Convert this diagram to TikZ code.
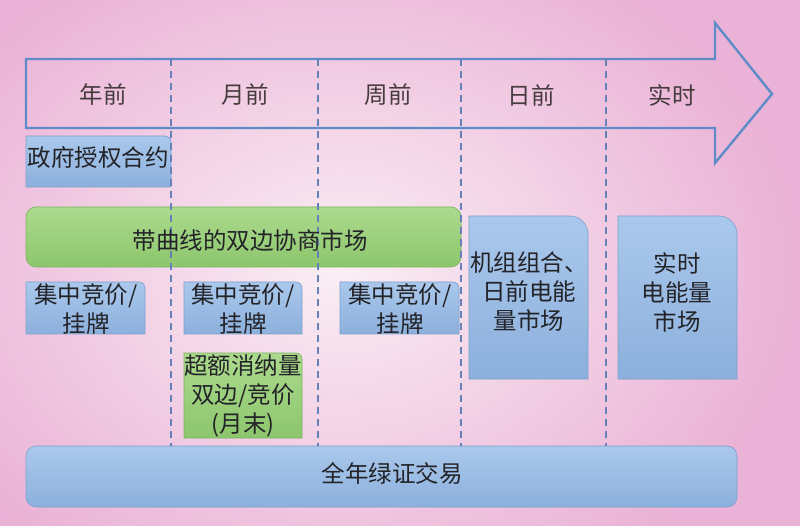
\documentclass[tikz,border=0pt]{standalone}
\usepackage{fontspec}
\newfontfamily\cjk{Noto Sans CJK SC}
\definecolor{bgout}{RGB}{234,178,214}
\definecolor{bgin}{RGB}{250,238,244}
\definecolor{arrowc}{RGB}{95,140,200}
\definecolor{dashc}{RGB}{100,130,185}
\definecolor{bluetop}{RGB}{170,200,236}
\definecolor{bluebot}{RGB}{140,176,220}
\definecolor{blueline}{RGB}{125,160,205}
\definecolor{greentop}{RGB}{172,218,142}
\definecolor{greenbot}{RGB}{140,198,108}
\definecolor{greenline}{RGB}{120,180,95}
\definecolor{headtxt}{RGB}{70,60,62}
\definecolor{boxtxt}{RGB}{35,35,40}
% box with only its top-right corner rounded: x1,y1 (top-left), x2,y2 (bottom-right), radius, style
\newcommand\trrect[6]{%
  \path[#6] (#1,#4) -- (#1,#2) -- ({#3-#5},#2)
    .. controls ({#3-0.448*#5},#2) and (#3,{#2+0.448*#5}) .. (#3,{#2+#5})
    -- (#3,#4) -- cycle;}
\tikzset{
  bluebox/.style={top color=bluetop, bottom color=bluebot, draw=blueline, line width=0.6pt},
  greenbox/.style={top color=greentop, bottom color=greenbot, draw=greenline, line width=0.6pt},
  headlabel/.style={font=\cjk\fontsize{23.5}{29}\selectfont, text=headtxt, inner sep=0pt},
  boxlabel/.style={font=\cjk\fontsize{23.5}{29}\selectfont, text=boxtxt, inner sep=0pt, align=center},
  divider/.style={draw=dashc, line width=1.4pt, dash pattern=on 7pt off 5pt},
}
\begin{document}
\begin{tikzpicture}[x=1pt,y=-1pt]
\useasboundingbox (0,0) rectangle (800,526);
% background
\begin{scope}
  \clip (0,0) rectangle (800,526);
  \fill[bgout] (0,0) rectangle (800,526);
  \fill[inner color=bgin, outer color=bgout] (-120,-80) rectangle (800,620);
\end{scope}
% time arrow
\draw[arrowc, line width=2.4pt, line join=miter]
  (26,59) -- (715,59) -- (715,23) -- (772,94) -- (715,163) -- (715,128) -- (26,128) -- cycle;
% boxes
\trrect{26}{136}{171}{187}{6}{bluebox}
\path[greenbox, rounded corners=10pt] (26,207) rectangle (461,267);
\trrect{26}{282}{145}{334}{6}{bluebox}
\trrect{184}{282}{302}{334}{6}{bluebox}
\trrect{340}{282}{459}{334}{6}{bluebox}
\trrect{184}{353}{302}{438}{6}{greenbox}
\trrect{469}{216}{588}{379}{18}{bluebox}
\trrect{618}{216}{737}{379}{18}{bluebox}
\path[bluebox, rounded corners=10pt] (26,446) rectangle (737,507);
% dividers
\foreach \xx in {171,318,461,606} \draw[divider] (\xx,59) -- (\xx,446);
% header labels
\node[headlabel] (h1) at (103,95) {年前};
\node[headlabel] (h2) at (245,95) {月前};
\node[headlabel] (h3) at (388,95) {周前};
\node[headlabel] (h4) at (531,95) {日前};
\node[headlabel] (h5) at (672,95) {实时};
% box labels
\node[boxlabel] (gov) at (98,158) {政府授权合约};
\node[boxlabel] (bil) at (250,241) {带曲线的双边协商市场};
\node[boxlabel] (c1) at (86,309) {集中竞价/\\挂牌};
\node[boxlabel] (c2) at (243,309) {集中竞价/\\挂牌};
\node[boxlabel] (c3) at (400,309) {集中竞价/\\挂牌};
\node[boxlabel] (ex) at (243,396) {超额消纳量\\双边/竞价\\(月末)};
\node[boxlabel] (da) at (529,292) {机组组合、\\日前电能\\量市场};
\node[boxlabel] (rt) at (677,292) {实时\\电能量\\市场};
\node[boxlabel] (gc) at (392,473) {全年绿证交易};
\end{tikzpicture}
\end{document}
